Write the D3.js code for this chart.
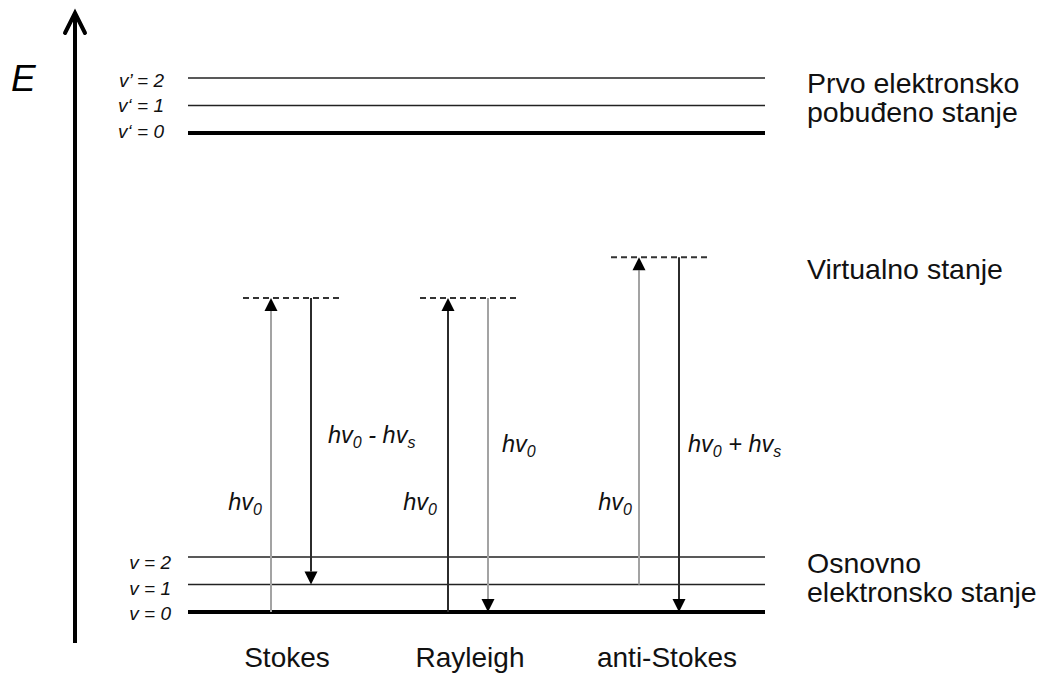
<!DOCTYPE html>
<html>
<head>
<meta charset="utf-8">
<script src="https://cdn.jsdelivr.net/npm/d3@7/dist/d3.min.js"></script>
<style>
  html, body { margin: 0; padding: 0; background: #fff; }
  svg { display: block; font-family: "Liberation Sans", Arial, sans-serif; }
</style>
</head>
<body>
<svg id="chart" width="1041" height="673"></svg>
<script>
// ---------------- data ----------------
const processes = ["Stokes", "Rayleigh", "anti-Stokes"];
const groundEnergies = [0, 1, 2];
const groundLabels = ["v = 0", "v = 1", "v = 2"];
const excitedEnergies = [17.42, 18.42, 19.42];
const excitedLabels = ["v‘ = 0", "v‘ = 1", "v’ = 2"];
const virtualEnergies = [11.42, 11.42, 12.9];
const absorbFrom = [0, 0, 1];
const emitTo = [1, 0, 0];
const absorbTone = ["light", "dark", "light"];
const emitTone = ["dark", "light", "dark"];
const absorbLabels = [["hv", "0"], ["hv", "0"], ["hv", "0"]];
const emitLabels = [["hv", "0", " - hv", "s"], ["hv", "0"], ["hv", "0", " + hv", "s"]];
const stateLabels = [
  { lines: ["Prvo elektronsko", "pobuđeno stanje"] },
  { lines: ["Virtualno stanje"] },
  { lines: ["Osnovno", "elektronsko stanje"] }
];
const axisLabel = "E";

// ---------------- layout ----------------
const svg = d3.select("#chart");
const y = d3.scaleLinear().domain([0, 20]).range([612, 62]);
const xc = d3.scaleOrdinal().domain(processes).range([292, 469, 660]);
const levelX0 = 188, levelX1 = 765;
const tones = { light: "#a3a3a3", dark: "#2b2b2b" };
const upOff = -21, downOff = 19;
const leftLabelGap = [-9, -11, -7];
const rightLabelGap = [17, 14, 9];
const rightLabelBase = [443, 452, 452];
const catShift = [-5, 1, 7];

// energy axis
svg.append("line")
  .attr("x1", 75).attr("x2", 75).attr("y1", 643).attr("y2", 14)
  .attr("stroke", "#000").attr("stroke-width", 4);
svg.append("path")
  .attr("d", "M65,33 L75,13 L85,33")
  .attr("fill", "none").attr("stroke", "#000").attr("stroke-width", 4)
  .attr("stroke-linejoin", "miter").attr("stroke-linecap", "round");
svg.append("text")
  .attr("x", 11).attr("y", 91)
  .attr("font-size", 37).attr("font-style", "italic").attr("fill", "#000")
  .text(axisLabel);

// levels
function drawLevels(energies, labels, labelEnd, offs) {
  energies.forEach((e, i) => {
    svg.append("line")
      .attr("x1", levelX0).attr("x2", levelX1)
      .attr("y1", y(e)).attr("y2", y(e))
      .attr("stroke", i === 0 ? "#000" : "#222")
      .attr("stroke-width", i === 0 ? 4 : 1.6);
    svg.append("text")
      .attr("x", labelEnd).attr("y", y(e) + offs[i])
      .attr("text-anchor", "end")
      .attr("font-size", 19).attr("font-style", "italic").attr("fill", "#111")
      .text(labels[i]);
  });
}
drawLevels(groundEnergies, groundLabels, 171, [8, 10, 12]);
drawLevels(excitedEnergies, excitedLabels, 164, [5, 7, 9]);

// virtual levels
processes.forEach((p, i) => {
  svg.append("line")
    .attr("x1", xc(p) - 49).attr("x2", xc(p) + 51)
    .attr("y1", y(virtualEnergies[i])).attr("y2", y(virtualEnergies[i]))
    .attr("stroke", "#333").attr("stroke-width", 2)
    .attr("stroke-dasharray", "6,4");
});

// arrows
function arrow(x, yFrom, yTo, color) {
  const dir = yTo < yFrom ? -1 : 1; // -1 = upward
  const head = 13, hw = 6.5;
  svg.append("line")
    .attr("x1", x).attr("x2", x)
    .attr("y1", yFrom).attr("y2", yTo - dir * head)
    .attr("stroke", color).attr("stroke-width", 2);
  svg.append("path")
    .attr("d", `M${x},${yTo} L${x - hw},${yTo - dir * head} L${x + hw},${yTo - dir * head} Z`)
    .attr("fill", "#000");
}

function hvLabel(parts, x, yBase, anchor) {
  const t = svg.append("text")
    .attr("x", x).attr("y", yBase)
    .attr("text-anchor", anchor)
    .attr("font-size", 23.5).attr("font-style", "italic").attr("fill", "#111");
  for (let k = 0; k < parts.length; k += 2) {
    t.append("tspan").attr("dy", k === 0 ? 0 : -5).text(parts[k]);
    if (parts[k + 1]) t.append("tspan").attr("dy", 5).attr("font-size", 16).text(parts[k + 1]);
  }
}

processes.forEach((p, i) => {
  const c = xc(p);
  const yv = y(virtualEnergies[i]);
  arrow(c + upOff, y(groundEnergies[absorbFrom[i]]), yv, tones[absorbTone[i]]);
  arrow(c + downOff, yv, y(groundEnergies[emitTo[i]]), tones[emitTone[i]]);
  hvLabel(absorbLabels[i], c + upOff + leftLabelGap[i], 510, "end");
  hvLabel(emitLabels[i], c + downOff + rightLabelGap[i], rightLabelBase[i], "start");
  svg.append("text")
    .attr("x", c + catShift[i]).attr("y", 667)
    .attr("text-anchor", "middle")
    .attr("font-size", 28).attr("fill", "#111")
    .text(p);
});

// state labels
const stateBaselines = [93, 279, 573];
stateLabels.forEach((s, i) => {
  s.lines.forEach((ln, j) => {
    svg.append("text")
      .attr("x", 807).attr("y", stateBaselines[i] + j * 29)
      .attr("font-size", 28.5).attr("fill", "#111")
      .text(ln);
  });
});
</script>
</body>
</html>
